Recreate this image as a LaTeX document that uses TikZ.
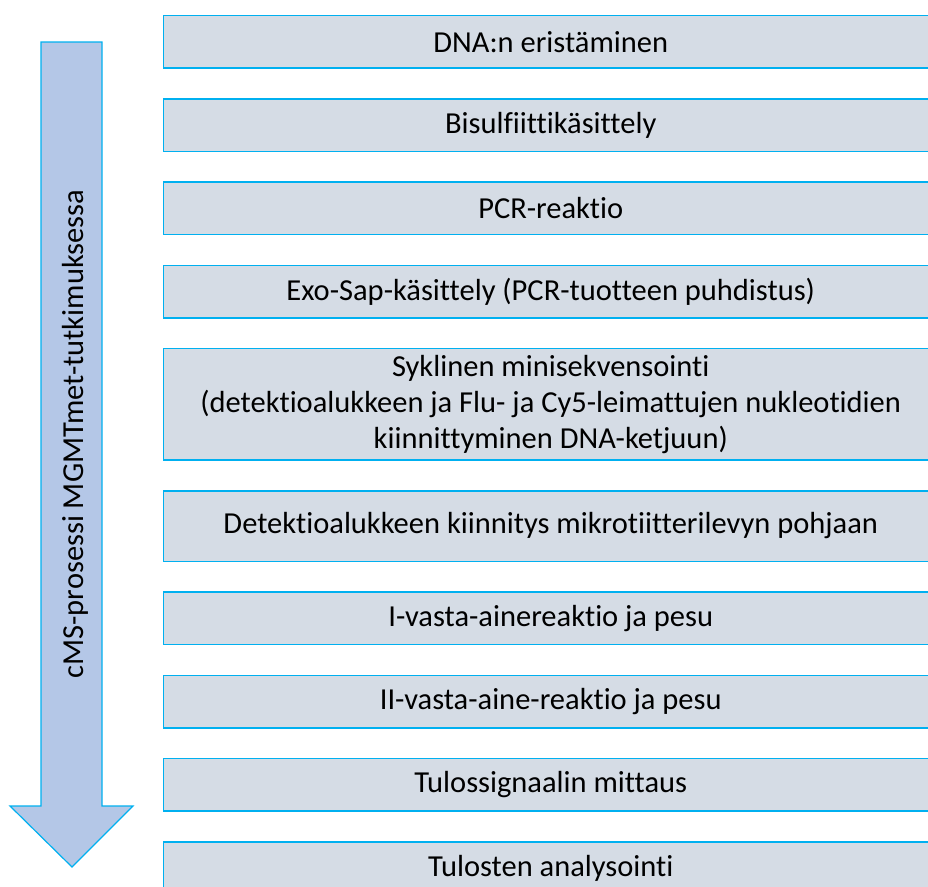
\documentclass[tikz,border=0pt]{standalone}
\usepackage{fontspec}
\setmainfont{Carlito}[Ligatures=NoCommon]
\usetikzlibrary{positioning}

\definecolor{boxfill}{HTML}{D5DCE5}
\definecolor{arrowfill}{HTML}{B4C7E7}
\definecolor{edgeblue}{HTML}{00B0F0}

\begin{document}
\begin{tikzpicture}[
    x = 1pt,
    y = -1pt,
    node distance = 29.25pt,
    font = \fontsize{30.5}{36}\selectfont
]

% Setup the styles for the steps
\tikzstyle{stepbox}=[draw=edgeblue, fill=boxfill, line width=1.5pt, minimum width=774.5pt, minimum height=52.5pt, align=center, inner sep=0pt]

\useasboundingbox (0,0) rectangle (928,886);
\clip (0,0) rectangle (928,886);

% Draw the process arrow
\draw[draw=edgeblue, fill=arrowfill, line width=1.2pt]
    (41,42) -- (102,42) -- (102,806) -- (133,806) -- (72,867)
    -- (10,806) -- (41,806) -- cycle;
\node[rotate=90] (process) at (75,434) {cMS-prosessi MGMTmet-tutkimuksessa};

% Draw the steps
\node[stepbox, anchor=north west] (s1) at (162.75,14.75) {DNA:n eristäminen};
\node[stepbox, below=of s1] (s2) {Bisulfiittikäsittely};
\node[stepbox, below=of s2] (s3) {PCR-reaktio};
\node[stepbox, below=of s3] (s4) {Exo-Sap-käsittely (PCR-tuotteen puhdistus)};
\node[stepbox, below=of s4, minimum height=111.5pt] (s5) {Syklinen minisekvensointi\\(detektioalukkeen ja Flu- ja Cy5-leimattujen nukleotidien\\kiinnittyminen DNA-ketjuun)};
\node[stepbox, below=of s5, minimum height=70.5pt] (s6) {Detektioalukkeen kiinnitys mikrotiitterilevyn pohjaan};
\node[stepbox, below=of s6] (s7) {I-vasta-ainereaktio ja pesu};
\node[stepbox, below=of s7] (s8) {II-vasta-aine-reaktio ja pesu};
\node[stepbox, below=of s8] (s9) {Tulossignaalin mittaus};
\node[stepbox, below=of s9] (s10) {Tulosten analysointi};

\end{tikzpicture}
\end{document}
